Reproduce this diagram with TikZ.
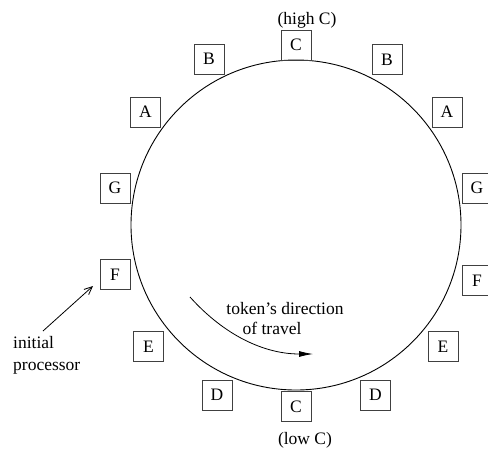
\documentclass[tikz,border=0pt]{standalone}
\usepackage{fontspec}
\setmainfont{Liberation Serif}
\usetikzlibrary{arrows.meta}
\begin{document}
\begin{tikzpicture}[x=1pt,y=-1pt,
  proc/.style={draw=black!75,line width=0.9pt,minimum size=30pt,inner sep=0pt,font=\fontsize{17.5}{20}\selectfont},
  lbl/.style={inner sep=0pt,font=\fontsize{17.5}{20}\selectfont},
  ring/.style={draw=black,line width=0.9pt}]
\useasboundingbox (0,0) rectangle (488,448);
\node[ring,circle,minimum size=330pt,inner sep=0pt] (ring) at (296,225) {};
\node[proc] (CT) at (296,45) {C};
\node[proc] (BL) at (209,59) {B};
\node[proc] (BR) at (387,59.5) {B};
\node[proc] (AL) at (145.5,112) {A};
\node[proc] (AR) at (447,112) {A};
\node[proc] (GL) at (115,188) {G};
\node[proc] (GR) at (477,188) {G};
\node[proc] (FL) at (115,274.5) {F};
\node[proc] (FR) at (477,280.5) {F};
\node[proc] (EL) at (148.5,346.5) {E};
\node[proc] (ER) at (443,346.5) {E};
\node[proc] (DL) at (217,395) {D};
\node[proc] (DR) at (375.5,395) {D};
\node[proc] (CB) at (296,406.5) {C};
\node[lbl] (high) at (307,20) {(high C)};
\node[lbl] (low) at (305,440) {(low C)};
\node[lbl,anchor=base] (tok) at (285,314) {token’s direction};
\node[lbl,anchor=base] (trav) at (272,334) {of travel};
\node[lbl,anchor=base west] (init) at (13,348) {initial};
\node[lbl,anchor=base west] (proc) at (13,370) {processor};
\coordinate (initfrom) at (43,331);
\coordinate (inittip) at (93,286);
\draw[line width=0.8pt,-{Straight Barb[length=8pt,width=7pt]}] (initfrom) -- (inittip);
\coordinate (tokstart) at (190,297);
\coordinate (tokend) at (313,354);
\draw[line width=0.8pt,-{Latex[length=14pt,width=6pt]}] (tokstart) .. controls (225,336) and (265,354) .. (tokend);
\end{tikzpicture}
\end{document}
